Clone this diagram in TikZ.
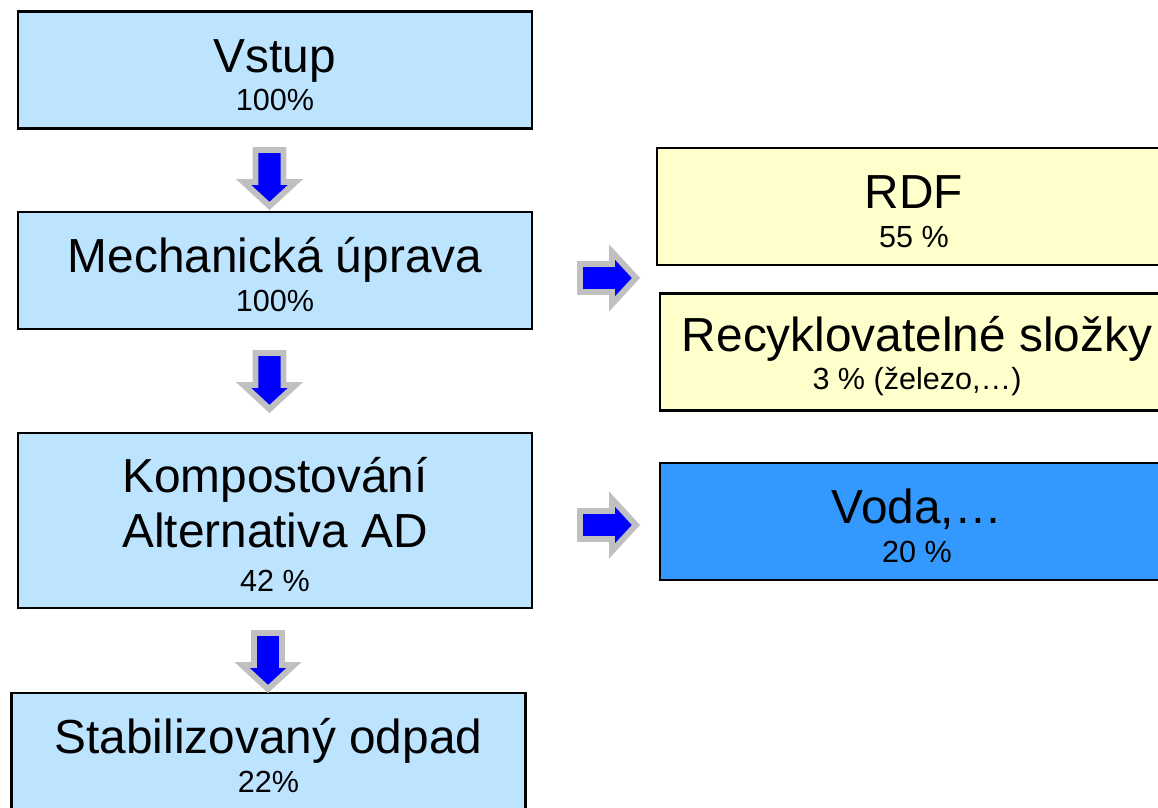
\documentclass[tikz,border=0pt]{standalone}
\usepackage{fontspec}
\setmainfont{Liberation Sans}
\definecolor{boxblue}{RGB}{189,228,255}
\definecolor{boxyellow}{RGB}{255,255,204}
\definecolor{waterblue}{RGB}{51,153,255}
\definecolor{arrowgray}{RGB}{192,192,192}
\newcommand{\pct}[1]{{\fontsize{17.4}{21}\selectfont #1}}

\begin{document}
\begin{tikzpicture}[x=0.02cm, y=-0.02cm,
mybox/.style={draw, line width=1.2pt, rectangle, minimum width=10.28cm, minimum height=2.34cm, inner sep=0pt, align=center, font=\fontsize{27.2}{31}\selectfont},
flowarrow/.pic={\draw[arrowgray, line width=3.4pt, fill=blue, line join=miter]
  (-14,0) -- (14,0) -- (14,32) -- (26,32) -- (0,56) -- (-26,32) -- (-14,32) -- cycle;}
]
\useasboundingbox (0,0) rectangle (1158,807);

% left column
\node (vstup) at (275, 70) [mybox, fill=boxblue] {\rule{0pt}{24.5pt}Vstup\\[-9pt]\pct{100\%}};
\node (mech) at (275, 270.5) [mybox, fill=boxblue] {\rule{0pt}{24.5pt}Mechanická úprava\\[-9pt]\pct{100\%}};
\node (komp) at (275, 520.5) [mybox, fill=boxblue, minimum height=3.5cm] {\rule{0pt}{24.5pt}Kompostování\\Alternativa AD\\[-6pt]\pct{42 \%}};
\node (stab) at (268.5, 751.5) [mybox, fill=boxblue] {\rule{0pt}{24.5pt}Stabilizovaný odpad\\[-9pt]\pct{22\%}};

% right column
\node (rdf) at (914, 206.5) [mybox, fill=boxyellow] {\rule{0pt}{24.5pt}RDF\\[-9pt]\pct{55 \%}};
\node (recy) at (917, 352) [mybox, fill=boxyellow] {\rule{0pt}{24.5pt}Recyklovatelné složky\\[-9pt]\pct{3 \% (železo,…)}};
\node (voda) at (917, 521.5) [mybox, fill=waterblue] {\rule{0pt}{24.5pt}Voda,…\\[-9pt]\pct{20 \%}};

% arrows
\pic at (269.5, 150) {flowarrow};
\pic at (269.5, 353) {flowarrow};
\pic at (268, 633) {flowarrow};
\pic[rotate=90] at (580, 278) {flowarrow};
\pic[rotate=90] at (580, 525) {flowarrow};

\end{tikzpicture}
\end{document}
